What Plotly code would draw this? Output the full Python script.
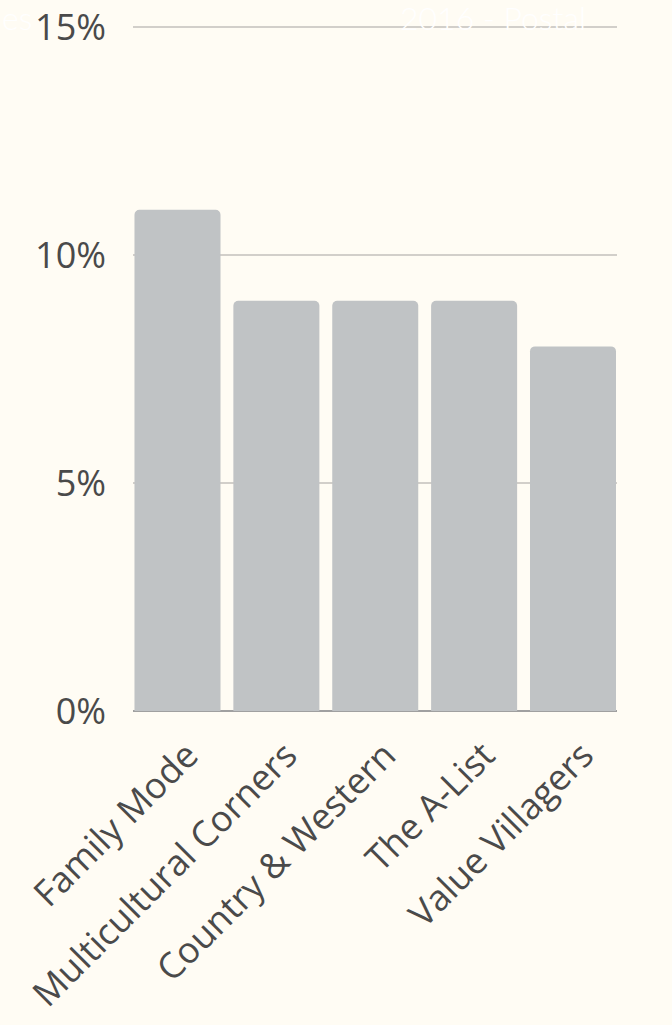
import plotly.graph_objects as go

# Share of households by Mosaic group
categories = ["Family Mode", "Multicultural Corners", "Country & Western", "The A-List", "Value Villagers"]
shares = [11, 9, 9, 9, 8]
tick_vals = [0, 5, 10, 15]
tick_text = ["0%", "5%", "10%", "15%"]

BG = "#fffcf4"
TEXT = "#4a4a4a"

fig = go.Figure(
    go.Bar(
        x=list(range(len(categories))),
        y=shares,
        width=0.87,
        marker=dict(color="#c0c3c5", line=dict(width=0)),
        hoverinfo="skip",
    )
)

fig.update_layout(
    width=672,
    height=1025,
    margin=dict(l=133, r=55, t=26, b=314, autoexpand=False),
    paper_bgcolor=BG,
    plot_bgcolor=BG,
    barcornerradius=5,
    showlegend=False,
    font=dict(family="Open Sans", color=TEXT),
)

fig.update_xaxes(
    range=[-0.45, 4.445],
    tickmode="array",
    tickvals=list(range(len(categories))),
    ticktext=categories,
    tickangle=-45,
    tickfont=dict(size=36, color=TEXT),
    showgrid=False,
    showline=False,
    zeroline=False,
    ticks="",
    ticklabelstandoff=15,
    ticklabelshift=10,
    automargin=False,
)

fig.update_yaxes(
    range=[0, 15.03],
    tickmode="array",
    tickvals=tick_vals,
    ticktext=tick_text,
    tickfont=dict(size=36, color=TEXT),
    showgrid=True,
    gridcolor="#d2cfca",
    gridwidth=2,
    zeroline=True,
    zerolinecolor="#a0a0a0",
    zerolinewidth=2,
    showline=False,
    ticks="",
    ticklabelstandoff=26,
    automargin=False,
)

# Heading fragments in white along the top edge
fig.add_annotation(
    text="es", xref="paper", yref="paper", x=-0.275, y=1.0,
    xanchor="left", yanchor="bottom", yshift=-13, showarrow=False,
    font=dict(family="Lato", size=32, color="#ffffff", weight=300),
)
fig.add_annotation(
    text="2016 - Postal", xref="paper", yref="paper", x=0.547, y=1.0,
    xanchor="left", yanchor="bottom", yshift=-13, showarrow=False,
    font=dict(family="Lato", size=32, color="#ffffff", weight=300),
)

fig.write_html("out.html")
